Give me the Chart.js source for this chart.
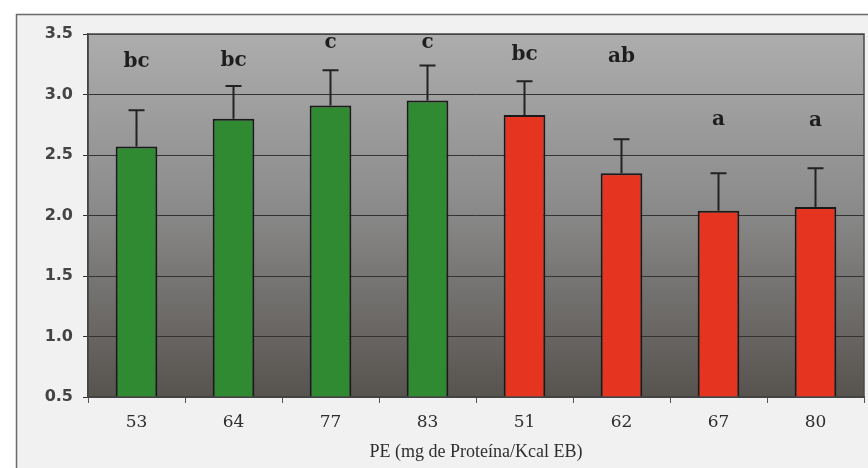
<!DOCTYPE html>
<html>
<head>
<meta charset="utf-8">
<script src="https://cdn.jsdelivr.net/npm/chart.js@4"></script>
<style>
html,body{margin:0;padding:0;background:#ffffff;}
#wrap{width:868px;height:468px;position:relative;}
</style>
</head>
<body>
<div id="wrap"><canvas id="c" width="868" height="468"></canvas></div>
<script>
const categories = ['53', '64', '77', '83', '51', '62', '67', '80'];
const means = [2.57, 2.80, 2.91, 2.95, 2.83, 2.35, 2.04, 2.07];
const errors = [0.30, 0.27, 0.29, 0.29, 0.28, 0.28, 0.31, 0.32];
const letters = ['bc', 'bc', 'c', 'c', 'bc', 'ab', 'a', 'a'];
const letterLevels = [3.27, 3.28, 3.43, 3.43, 3.33, 3.31, 2.79, 2.78];
const groups = ['A', 'A', 'A', 'A', 'B', 'B', 'B', 'B'];
const xTitle = 'PE (mg de Proteína/Kcal EB)';

const groupFill = { A: '#2f8a32', B: '#e5341f' };

const framePlugin = {
  id: 'frame',
  beforeDraw(chart) {
    const ctx = chart.ctx;
    const a = chart.chartArea;
    ctx.save();
    ctx.fillStyle = '#f1f1f1';
    ctx.fillRect(16, 14, 868 - 16, 468 - 14);
    ctx.strokeStyle = '#6a6a6a';
    ctx.lineWidth = 1.5;
    ctx.strokeRect(16.5, 14.5, 868, 470);
    const g = ctx.createLinearGradient(0, a.top, 0, a.bottom);
    g.addColorStop(0, '#adadad');
    g.addColorStop(0.45, '#8d8d8d');
    g.addColorStop(1, '#57534f');
    ctx.fillStyle = g;
    ctx.fillRect(a.left, a.top, a.right - a.left, a.bottom - a.top);
    ctx.restore();
  },
  afterDatasetsDraw(chart) {
    const ctx = chart.ctx;
    const a = chart.chartArea;
    const ys = chart.scales.y;
    const meta = chart.getDatasetMeta(0);
    ctx.save();
    ctx.strokeStyle = '#222';
    ctx.lineWidth = 2;
    meta.data.forEach((bar, i) => {
      const x = bar.x;
      const yTop = ys.getPixelForValue(means[i] + errors[i]);
      const yBar = ys.getPixelForValue(means[i]);
      ctx.beginPath();
      ctx.moveTo(x, yBar);
      ctx.lineTo(x, yTop);
      ctx.moveTo(x - 8, yTop);
      ctx.lineTo(x + 8, yTop);
      ctx.stroke();
      ctx.fillStyle = '#1e1e1e';
      ctx.font = 'bold 20px "DejaVu Serif", serif';
      ctx.textAlign = 'center';
      ctx.textBaseline = 'middle';
      ctx.fillText(letters[i], x, ys.getPixelForValue(letterLevels[i]));
    });
    ctx.strokeStyle = '#4a4a4a';
    ctx.lineWidth = 1.5;
    ctx.strokeRect(a.left, a.top, a.right - a.left, a.bottom - a.top);
    ctx.restore();
  }
};

new Chart(document.getElementById('c'), {
  type: 'bar',
  data: {
    labels: categories,
    datasets: [{
      data: means,
      backgroundColor: groups.map(g => groupFill[g]),
      borderColor: '#1a1a1a',
      borderWidth: 2,
      borderSkipped: 'start',
      barPercentage: 0.43,
      categoryPercentage: 1.0
    }]
  },
  options: {
    responsive: false,
    animation: false,
    devicePixelRatio: 1,
    layout: { padding: { top: 34, right: 4, left: 0, bottom: 0 } },
    plugins: { legend: { display: false }, tooltip: { enabled: false } },
    scales: {
      x: {
        grid: { display: true, drawOnChartArea: false, drawTicks: true, tickLength: 6, color: '#555', offset: true },
        border: { display: true, color: '#333', width: 1.5 },
        ticks: { color: '#2e2e2e', padding: 9, font: { family: '"DejaVu Serif", serif', size: 17 } },
        title: {
          display: true, text: xTitle, color: '#2e2e2e',
          font: { family: '"Liberation Serif", serif', size: 18 },
          padding: { top: 0, bottom: 5 }
        },
        afterFit(s) { s.height = 71; }
      },
      y: {
        min: 0.5, max: 3.5,
        grid: { color: '#333', lineWidth: 1, tickLength: 5, drawTicks: true },
        border: { display: true, color: '#333', width: 1.5 },
        ticks: {
          stepSize: 0.5, color: '#444', padding: 10,
          font: { family: '"DejaVu Sans", sans-serif', size: 16, weight: 'bold' },
          callback: v => Number(v).toFixed(1)
        },
        afterFit(s) { s.width = 88; }
      }
    }
  },
  plugins: [framePlugin]
});
</script>
</body>
</html>
